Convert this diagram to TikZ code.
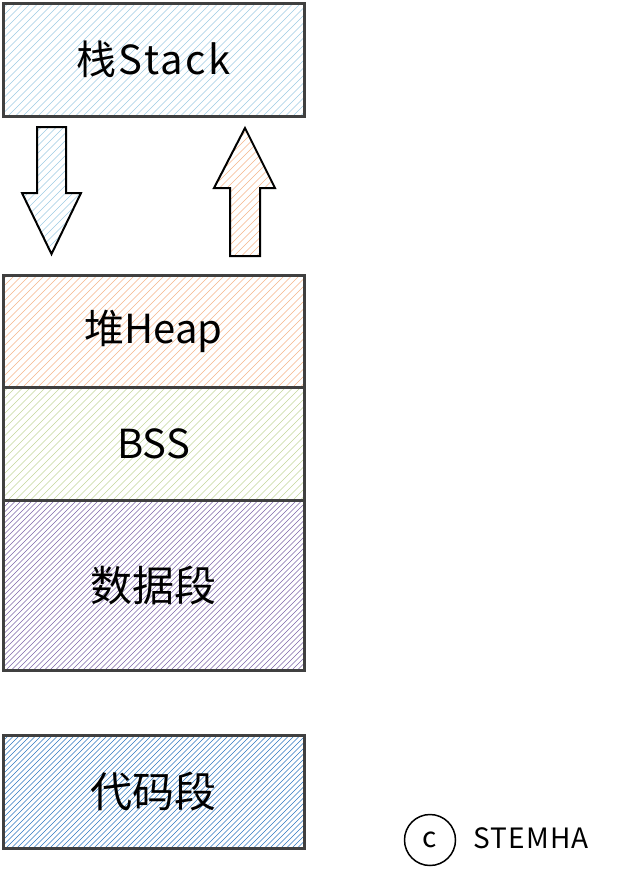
\documentclass[tikz,border=0pt]{standalone}
\usepackage{fontspec}
\setmainfont{Noto Sans CJK SC}
\setsansfont{Noto Sans CJK SC}
\definecolor{frame}{HTML}{404040}
\definecolor{stackc}{HTML}{9DCBE3}
\definecolor{heapc}{HTML}{F4B58A}
\definecolor{bssc}{HTML}{C3D69B}
\definecolor{datac}{HTML}{7E67A8}
\definecolor{codec}{HTML}{2E78C0}
\tikzset{
  hatch/.style 2 args={path picture={
      \foreach \i in {0,...,130}{
        \draw[#2, line width=0.55pt, line cap=butt]
          ([xshift={\i*#1-250}]path picture bounding box.south west) -- ++(400,-400);
      }}},
  seg/.style={draw=frame, line width=3pt, minimum width=301pt, inner sep=0pt, font=\fontsize{40}{42}\selectfont},
  bigarrow/.style 2 args={draw=black, line width=2pt, line join=miter, hatch={#1}{#2}},
}
\begin{document}
\begin{tikzpicture}[x=1pt,y=-1pt]
\useasboundingbox (0,0) rectangle (617,881);
\node[seg, minimum height=113pt, hatch={7.5}{stackc}, font=\fontsize{40}{42}\selectfont\addfontfeatures{LetterSpace=6}] (stack) at (153.5,59.5) {栈Stack};
\node[seg, minimum height=112pt, hatch={7.5}{heapc}] (heap) at (153.5,331) {堆Heap};
\node[seg, minimum height=113pt, hatch={7.5}{bssc}] (bss) at (153.5,443.5) {BSS};
\node[seg, minimum height=170pt, hatch={5.5}{datac}, font=\fontsize{42}{44}\selectfont] (data) at (153.5,585) {数据段};
\node[seg, minimum height=113pt, hatch={5.5}{codec}, font=\fontsize{42}{44}\selectfont] (code) at (153.5,791.5) {代码段};
% growth arrows
\draw[bigarrow={7.5}{stackc}] (37,127) -- (66,127) -- (66,193) -- (81,193) -- (51.5,254) -- (22,193) -- (37,193) -- cycle;
\draw[bigarrow={7.5}{heapc}] (230,256) -- (260,256) -- (260,188) -- (275,188) -- (245,128) -- (214,188) -- (230,188) -- cycle;
% copyright mark
\node[draw=black, circle, line width=1.5pt, minimum size=51pt, inner sep=0pt, font=\fontsize{28}{30}\selectfont] (copy) at (430,840) {c};
\node[anchor=west, font=\fontsize{28}{30}\selectfont\addfontfeatures{LetterSpace=4}] (brand) at (470,838) {STEMHA};
\end{tikzpicture}
\end{document}
